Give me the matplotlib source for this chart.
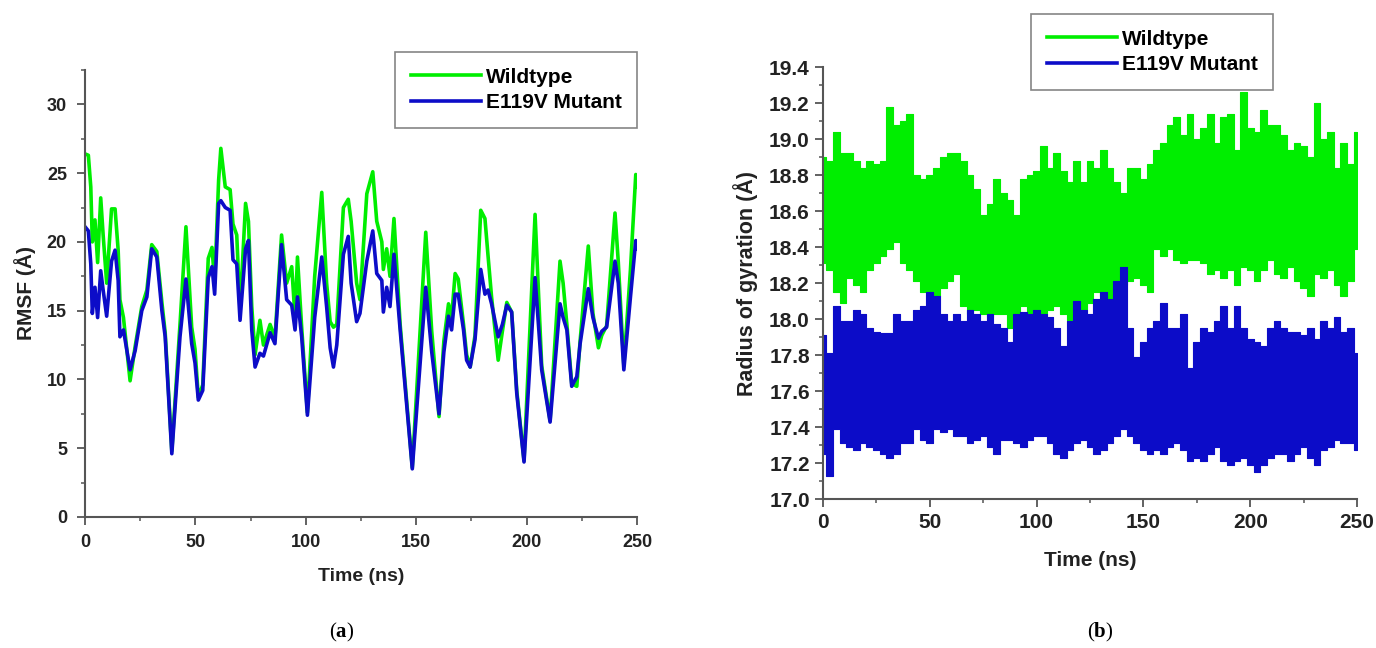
import numpy as np
import matplotlib
matplotlib.use("Agg")
import matplotlib.pyplot as plt
from matplotlib.ticker import MultipleLocator, FormatStrFormatter
from matplotlib.lines import Line2D

plt.rcParams['font.family'] = ['Liberation Sans', 'DejaVu Sans']
plt.rcParams['font.weight'] = 'bold'
plt.rcParams['mathtext.fontset'] = 'custom'
plt.rcParams['mathtext.bf'] = 'Liberation Serif:bold'
plt.rcParams['mathtext.rm'] = 'Liberation Serif'

GREEN = '#00ee00'
BLUE = '#0c0cc8'

# ---- (a) RMSF ----
t_rmsf = [0, 1.5, 2.6, 3.3, 4.5, 5.7, 7.1, 8.2, 9.8, 12.0, 13.6, 15.0, 15.8, 17.4,
          20.4, 22.7, 25.7, 28.0, 30.2, 32.5, 34.8, 36.3, 39.3, 43.0, 45.7, 48.3,
          49.8, 51.3, 53.3, 55.8, 57.5, 58.7, 60.5, 61.5, 63.5, 65.7, 67.0, 68.7,
          70.2, 72.7, 74.0, 75.5, 77.0, 79.2, 80.8, 83.8, 86.0, 89.0, 91.3, 93.6,
          95.1, 96.2, 98.1, 100.7, 104, 107.2, 109.4, 111, 112.5, 114, 117.0, 119.2,
          120.5, 123.0, 124.5, 127.6, 130.3, 132.1, 134.4, 135.1, 136.6, 138.1,
          139.9, 142.7, 148.2, 154.3, 157, 160.3, 162.5, 164.6, 166.0, 167.6, 169.0,
          171.4, 172.8, 174.4, 176.6, 179.2, 181.1, 182.5, 184.1, 187.1, 189, 191.0,
          193.2, 195.5, 198.8, 203.8, 206.8, 210.6, 215.1, 216.5, 218.2, 220.4,
          222.7, 224.2, 227.9, 230, 232.5, 234, 236.2, 240.0, 241.5, 244.0, 247,
          249.4, 250]
wt_rmsf = [26.4, 26.3, 24.0, 20.0, 21.6, 18.5, 23.2, 20.5, 17.0, 22.4, 22.4, 19.4, 15.8, 14.5,
           9.9, 12.4, 15.3, 16.5, 19.8, 19.3, 15.6, 13.4, 4.8, 14.0, 21.1, 13.8,
           12.2, 8.7, 9.6, 18.8, 19.6, 17.0, 24.5, 26.8, 24.0, 23.8, 21.3, 20.5,
           15.0, 22.8, 21.5, 15.3, 11.8, 14.3, 12.5, 14.0, 13.0, 20.5, 17.0, 18.2,
           14.5, 18.9, 13.8, 7.6, 17.5, 23.6, 17.0, 14.2, 13.8, 14.0, 22.5, 23.1,
           21.5, 17.0, 15.8, 23.5, 25.1, 21.5, 20.0, 18.0, 19.5, 17.5,
           21.7, 14.0, 3.6, 20.7, 13.5, 7.3, 12.8, 15.5, 14.5, 17.7, 17.3,
           14.0, 11.8, 10.9, 13.2, 22.3, 21.7, 19.0, 16.0, 11.4, 13.5, 15.6,
           14.9, 9.2, 4.1, 22.0, 11.0, 7.0, 18.6, 17.0, 14.0, 9.7,
           9.5, 12.8, 19.7, 14.8, 12.3, 13.2, 13.9, 22.1, 18.5, 11.0, 18.0,
           24.9, 24.0]
mut_rmsf = [21.1, 20.8, 18.4, 14.8, 16.7, 14.5, 17.9, 16.5, 14.6, 18.6, 19.4, 17.2, 13.1, 13.6,
            10.7, 12.1, 15.0, 16.0, 19.5, 18.9, 15.0, 13.1, 4.6, 13.1, 17.3, 12.6,
            11.2, 8.5, 9.2, 17.4, 18.2, 16.2, 22.8, 23.0, 22.5, 22.3, 18.7, 18.4,
            14.3, 19.5, 20.1, 13.6, 10.9, 11.9, 11.7, 13.4, 12.6, 19.8, 15.8, 15.4,
            13.6, 16.0, 13.1, 7.4, 14.5, 18.9, 15.3, 12.3, 10.9, 12.5, 19.1, 20.4,
            17.0, 14.2, 14.8, 18.6, 20.8, 17.7, 17.2, 14.9, 16.7, 15.3,
            19.1, 13.6, 3.5, 16.7, 12.0, 7.5, 12.0, 14.6, 13.6, 16.2, 16.2,
            13.6, 11.4, 10.9, 12.9, 18.0, 16.2, 16.5, 15.5, 13.1, 14.0, 15.4,
            14.9, 9.0, 4.0, 17.4, 10.7, 6.9, 15.5, 14.5, 13.6, 9.5,
            10.2, 12.6, 16.6, 14.5, 13.0, 13.5, 13.8, 18.6, 17.0, 10.7, 16.0,
            20.1, 19.5]

# ---- (b) Radius of gyration: upper / lower edges of the noisy traces ----
t_rg = [0, 3.1, 6.3, 9.4, 12.5, 15.6, 18.8, 21.9, 25.0, 28.1, 31.3, 34.4, 37.5, 40.6,
        43.8, 46.9, 50.0, 53.1, 56.3, 59.4, 62.5, 65.6, 68.8, 71.9, 75.0, 78.1, 81.3,
        84.4, 87.5, 90.6, 93.8, 96.9, 100.0, 103.1, 106.3, 109.4, 112.5, 115.6, 118.8,
        121.9, 125.0, 128.1, 131.3, 134.4, 137.5, 140.6, 143.8, 146.9, 150.0, 153.1,
        156.3, 159.4, 162.5, 165.6, 168.8, 171.9, 175.0, 178.1, 181.3, 184.4, 187.5,
        190.6, 193.8, 196.9, 200.0, 203.1, 206.3, 209.4, 212.5, 215.6, 218.8, 221.9,
        225.0, 228.1, 231.3, 234.4, 237.5, 240.6, 243.8, 246.9, 250.0]
wt_hi = [18.90, 18.88, 19.04, 18.92, 18.92, 18.88, 18.84, 18.88, 18.86, 18.88, 19.18, 19.08, 19.10, 19.14,
         18.80, 18.78, 18.80, 18.84, 18.90, 18.92, 18.92, 18.88, 18.80, 18.72, 18.58, 18.64, 18.78,
         18.70, 18.66, 18.58, 18.78, 18.80, 18.82, 18.96, 18.84, 18.92, 18.82, 18.76, 18.88,
         18.76, 18.88, 18.84, 18.94, 18.84, 18.76, 18.70, 18.84, 18.84, 18.78, 18.86,
         18.94, 18.98, 19.08, 19.12, 19.02, 19.14, 19.00, 19.06, 19.14, 18.98, 19.12,
         19.14, 18.94, 19.26, 19.06, 19.04, 19.16, 19.08, 19.08, 19.02, 18.94, 18.98,
         18.96, 18.90, 19.20, 19.00, 19.04, 18.84, 18.98, 18.86, 19.04]
wt_lo = [18.31, 18.27, 18.15, 18.09, 18.23, 18.19, 18.15, 18.27, 18.31, 18.35, 18.39, 18.43, 18.31, 18.27,
         18.21, 18.15, 18.15, 18.13, 18.17, 18.21, 18.25, 18.07, 18.03, 18.05, 18.03, 18.01, 18.03,
         18.03, 17.95, 17.99, 18.07, 18.03, 18.05, 18.03, 18.05, 18.07, 18.03, 17.99, 18.03,
         18.05, 18.09, 18.15, 18.13, 18.07, 18.15, 18.19, 18.21, 18.23, 18.19, 18.15,
         18.39, 18.35, 18.39, 18.33, 18.31, 18.33, 18.33, 18.31, 18.25, 18.27, 18.23,
         18.27, 18.19, 18.29, 18.27, 18.21, 18.27, 18.33, 18.25, 18.23, 18.29, 18.21,
         18.17, 18.13, 18.25, 18.23, 18.27, 18.19, 18.13, 18.21, 18.39]
mut_hi = [17.91, 17.81, 18.07, 17.99, 17.99, 18.05, 18.03, 17.95, 17.93, 17.92, 17.92, 18.03, 17.99, 17.99,
          18.05, 18.07, 18.15, 18.13, 18.03, 17.99, 18.03, 17.99, 18.05, 18.03, 17.99, 18.03, 17.97,
          17.95, 17.87, 18.03, 18.04, 18.03, 18.05, 18.03, 18.01, 17.95, 17.85, 17.99, 18.10,
          18.05, 18.03, 18.11, 18.15, 18.11, 18.21, 18.29, 17.95, 17.79, 17.87, 17.95,
          17.99, 18.09, 17.95, 17.95, 18.03, 17.73, 17.87, 17.95, 17.93, 17.99, 18.07,
          17.95, 18.07, 17.95, 17.89, 17.87, 17.85, 17.95, 17.99, 17.95, 17.93, 17.93,
          17.91, 17.95, 17.89, 17.99, 17.95, 18.01, 17.93, 17.95, 17.81]
mut_lo = [17.25, 17.13, 17.39, 17.31, 17.29, 17.27, 17.31, 17.29, 17.27, 17.25, 17.23, 17.25, 17.31, 17.31,
          17.39, 17.33, 17.31, 17.39, 17.37, 17.39, 17.35, 17.35, 17.31, 17.33, 17.35, 17.29, 17.25,
          17.33, 17.33, 17.31, 17.29, 17.33, 17.35, 17.35, 17.31, 17.25, 17.23, 17.27, 17.31,
          17.33, 17.29, 17.25, 17.27, 17.31, 17.35, 17.39, 17.35, 17.31, 17.27, 17.25,
          17.27, 17.25, 17.29, 17.31, 17.27, 17.21, 17.23, 17.21, 17.25, 17.29, 17.21,
          17.19, 17.21, 17.23, 17.19, 17.15, 17.19, 17.23, 17.25, 17.25, 17.21, 17.25,
          17.29, 17.23, 17.19, 17.27, 17.29, 17.33, 17.31, 17.31, 17.27]


def style_axes(ax, size, xpad, ypad):
    for s in ['top', 'right']:
        ax.spines[s].set_visible(False)
    for s in ['left', 'bottom']:
        ax.spines[s].set_color('#555555')
        ax.spines[s].set_linewidth(1.5)
    ax.tick_params(which='major', direction='out', length=6, width=1.3, color='#555555',
                   labelsize=size, labelcolor='#222222')
    ax.tick_params(which='minor', direction='out', length=3, width=1.1, color='#555555')
    ax.tick_params(axis='x', which='major', pad=xpad)
    ax.tick_params(axis='y', which='major', pad=ypad)
    for lab in ax.get_xticklabels() + ax.get_yticklabels():
        lab.set_fontweight('bold')


def make_legend(ax, handles, labels, x, y):
    leg = ax.legend(handles, labels, loc='upper left', bbox_to_anchor=(x / 1376, 1 - y / 648),
                    bbox_transform=fig.transFigure, borderaxespad=0, frameon=True,
                    fancybox=False, handlelength=3.4, handletextpad=0.2, borderpad=0.75,
                    labelspacing=0.3, prop={'weight': 'bold', 'size': 15})
    leg.get_frame().set_edgecolor('#666666')
    leg.get_frame().set_linewidth(1.2)
    return leg


fig = plt.figure(figsize=(13.76, 6.48), dpi=100)

# (a)
ax1 = fig.add_axes([0.0618, 0.2022, 0.4012, 0.6898])
l1, = ax1.plot(t_rmsf, wt_rmsf, color=GREEN, lw=2.6, label='Wildtype')
l2, = ax1.plot(t_rmsf, mut_rmsf, color=BLUE, lw=2.6, label='E119V Mutant')
ax1.set_xlim(0, 250)
ax1.set_ylim(0, 32.5)
ax1.xaxis.set_major_locator(MultipleLocator(50))
ax1.xaxis.set_minor_locator(MultipleLocator(25))
ax1.yaxis.set_major_locator(MultipleLocator(5))
ax1.yaxis.set_minor_locator(MultipleLocator(2.5))
style_axes(ax1, 13, 6.5, 7)
ax1.set_xlabel('Time (ns)', fontsize=14, fontweight='bold', labelpad=12, color='#222222')
ax1.set_ylabel('RMSF (Å)', fontsize=15, fontweight='bold', labelpad=8, color='#222222')
make_legend(ax1, [l1, l2], ['Wildtype', 'E119V Mutant'], 395, 52)

# (b)
ax2 = fig.add_axes([0.5981, 0.2299, 0.3881, 0.6667])
ax2.fill_between(t_rg, wt_lo, wt_hi, step='mid', color=GREEN, lw=0.8)
ax2.fill_between(t_rg, mut_lo, mut_hi, step='mid', color=BLUE, lw=0.8)
ax2.set_xlim(0, 250)
ax2.set_ylim(17.0, 19.4)
ax2.xaxis.set_major_locator(MultipleLocator(50))
ax2.xaxis.set_minor_locator(MultipleLocator(25))
ax2.yaxis.set_major_locator(MultipleLocator(0.2))
ax2.yaxis.set_minor_locator(MultipleLocator(0.1))
ax2.yaxis.set_major_formatter(FormatStrFormatter('%.1f'))
style_axes(ax2, 15, 4, 3.5)
ax2.set_xlabel('Time (ns)', fontsize=15, fontweight='bold', labelpad=14, color='#222222')
ax2.set_ylabel('Radius of gyration (Å)', fontsize=15.5, fontweight='bold', labelpad=8,
               color='#222222')
h1 = Line2D([], [], color=GREEN, lw=2.6)
h2 = Line2D([], [], color=BLUE, lw=2.6)
make_legend(ax2, [h1, h2], ['Wildtype', 'E119V Mutant'], 1031, 14)

fig.text(342 / 1376, 1 - 632 / 648, r'($\mathbf{a}$)', ha='center', va='center',
         fontsize=15, family='Liberation Serif', fontweight='normal')
fig.text(1100 / 1376, 1 - 632 / 648, r'($\mathbf{b}$)', ha='center', va='center',
         fontsize=15, family='Liberation Serif', fontweight='normal')

fig.savefig('out.png', dpi=100, facecolor='white')
